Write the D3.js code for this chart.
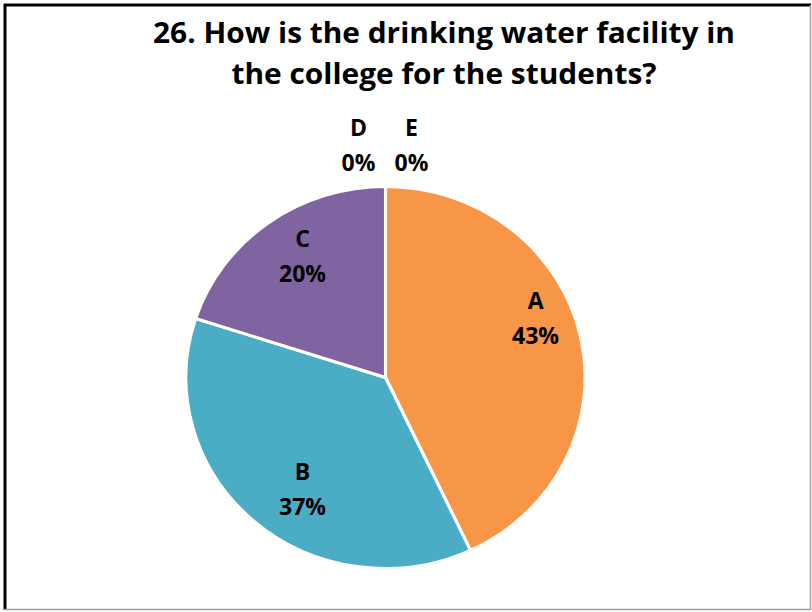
<!DOCTYPE html>
<html>
<head>
<meta charset="utf-8">
<script src="https://cdn.jsdelivr.net/npm/d3@7"></script>
<style>
  html, body { margin: 0; padding: 0; background: #fff; }
  svg { display: block; }
  text { font-family: "Open Sans", "DejaVu Sans", sans-serif; font-weight: 700; fill: #000; }
</style>
</head>
<body>
<svg id="chart" width="812" height="612"></svg>
<script>
// ---- data ----
const categories = ["A", "B", "C", "D", "E"];
const values = [43, 37, 20, 0, 0];
const colors = ["#F79646", "#4BACC6", "#8064A2", "#C0504D", "#9BBB59"];
const titleLines = ["26. How is the drinking water facility in", "the college for the students?"];

// ---- layout ----
const W = 812, H = 612;
const cx = 385.5, cy = 377.5, R = 191, stretchX = 1.045;
const labelNudge = { A: [4, -34], B: [16, -2], C: [5, -12] };

const svg = d3.select("#chart");
svg.append("rect").attr("x", 0).attr("y", 0).attr("width", W).attr("height", H).attr("fill", "#fff");

// frame
svg.append("line").attr("x1", 4).attr("y1", 5).attr("x2", 811).attr("y2", 5).attr("stroke", "#000").attr("stroke-width", 3);
svg.append("line").attr("x1", 5).attr("y1", 4).attr("x2", 5).attr("y2", 610).attr("stroke", "#000").attr("stroke-width", 3);
svg.append("line").attr("x1", 810.5).attr("y1", 5).attr("x2", 810.5).attr("y2", 610).attr("stroke", "#a0a0a0").attr("stroke-width", 1.5);
svg.append("line").attr("x1", 4).attr("y1", 609.5).attr("x2", 811).attr("y2", 609.5).attr("stroke", "#a0a0a0").attr("stroke-width", 1.5);

// title
const titleX = 444, titleY = [43, 84], titleLen = [582, 425];
titleLines.forEach((t, i) => {
  svg.append("text")
    .attr("x", titleX).attr("y", titleY[i])
    .attr("text-anchor", "middle")
    .attr("font-size", 29)
    .attr("textLength", titleLen[i])
    .attr("lengthAdjust", "spacingAndGlyphs")
    .text(t);
});

// pie
const data = categories.map((c, i) => ({ cat: c, value: values[i], color: colors[i] }));
const pie = d3.pie().sort(null).value(d => d.value);
const arcs = pie(data);
const arc = d3.arc().innerRadius(0).outerRadius(R);

const g = svg.append("g").attr("transform", `translate(${cx},${cy}) scale(${stretchX},1)`);
g.selectAll("path")
  .data(arcs.filter(d => d.data.value > 0))
  .join("path")
  .attr("d", arc)
  .attr("fill", d => d.data.color)
  .attr("stroke", "#fff")
  .attr("stroke-width", 3)
  .attr("stroke-linejoin", "round");

// labels
const total = d3.sum(values);
const fmt = v => Math.round(v / total * 100) + "%";
const labelArc = d3.arc().innerRadius(R * 0.75).outerRadius(R * 0.75);
const lg = svg.append("g");
arcs.forEach((d, i) => {
  let x, y;
  if (d.data.value > 0) {
    const c = labelArc.centroid(d);
    const n = labelNudge[d.data.cat] || [0, 0];
    x = cx + c[0] * stretchX + n[0];
    y = cy + c[1] + n[1];
  } else {
    // zero slices sit at the top, spread left/right
    const zeroIdx = arcs.filter(a => a.data.value === 0).indexOf(d);
    x = cx + (zeroIdx === 0 ? -27 : 26);
    y = cy - R - 48;
  }
  const t = lg.append("text").attr("text-anchor", "middle").attr("font-size", 23);
  t.append("tspan").attr("x", x).attr("y", y - 3).text(d.data.cat);
  t.append("tspan").attr("x", x).attr("y", y + 32).text(fmt(d.data.value));
});
</script>
</body>
</html>
